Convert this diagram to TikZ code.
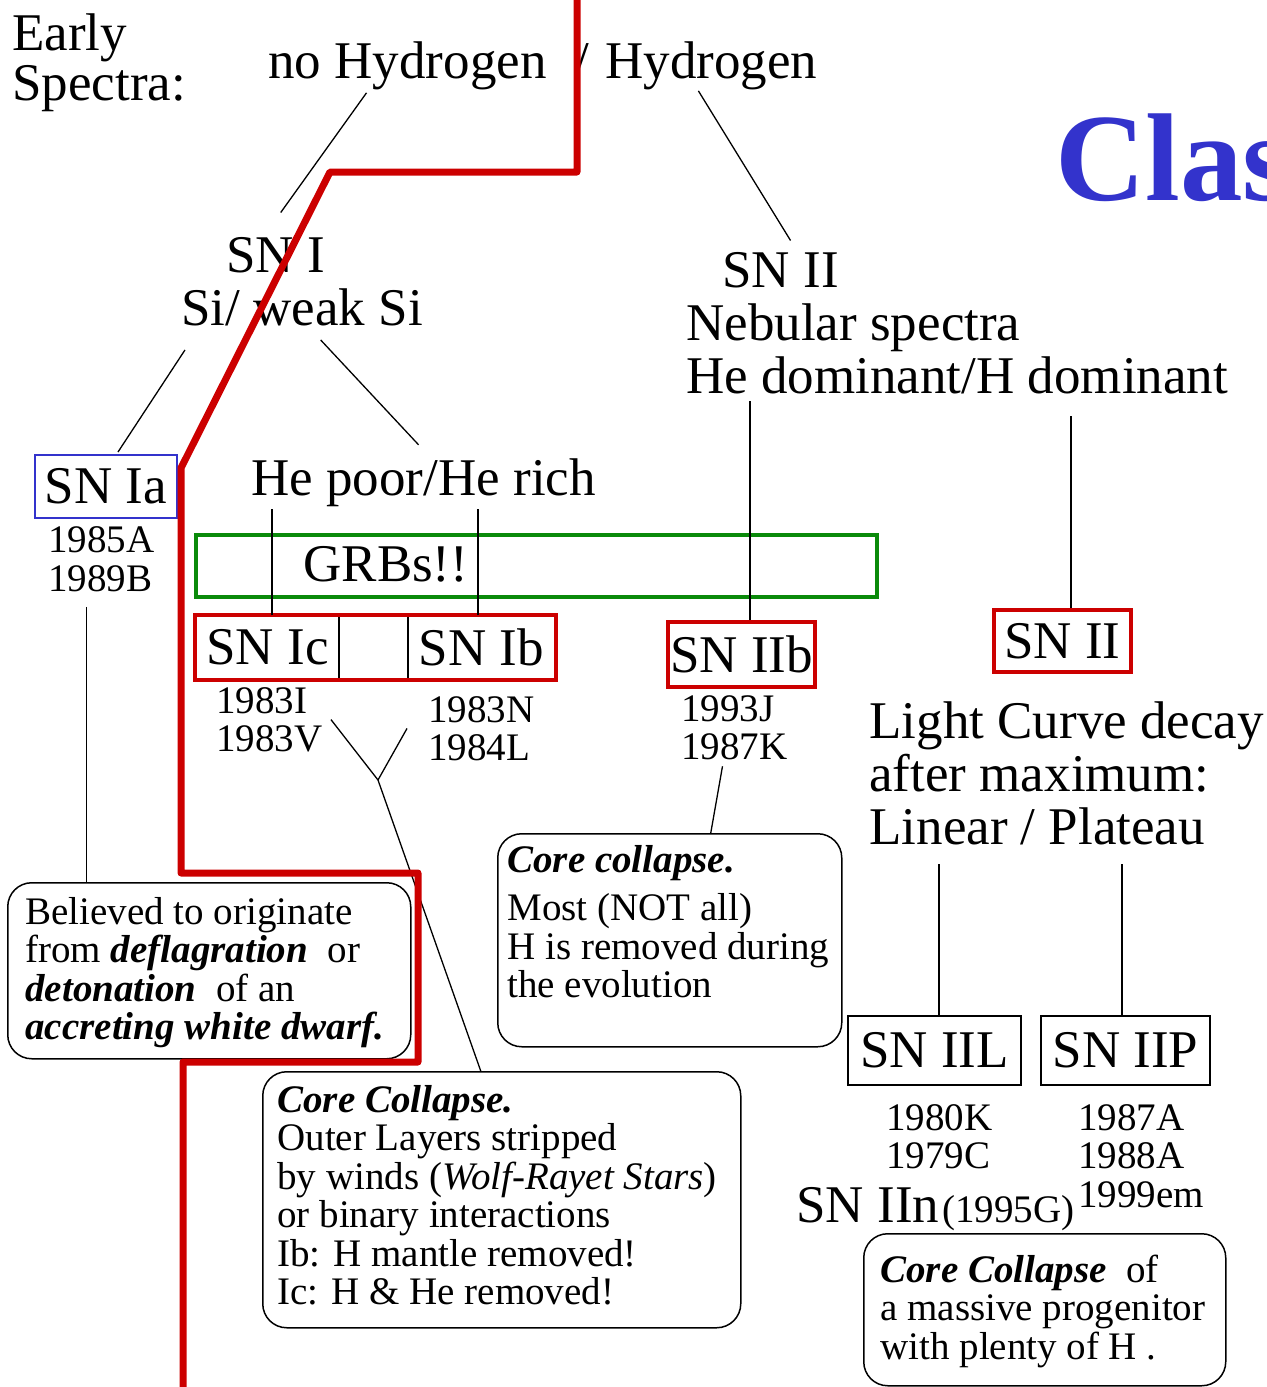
\documentclass[tikz,border=0pt]{standalone}
\usepackage{fontspec}
\setmainfont{Liberation Serif}
\usetikzlibrary{calc}
\definecolor{snred}{HTML}{CC0000}
\definecolor{grbgreen}{HTML}{0A8A0A}
\definecolor{iablue}{HTML}{3333CC}
\tikzset{
  big/.style={font=\fontsize{26.5}{26.5}\selectfont},
  small/.style={font=\fontsize{19.5}{19.25}\selectfont},
  txt/.style={inner sep=0pt, anchor=base west, align=left},
  branch/.style={line width=0.65pt},
  snbox/.style={draw, line width=0.75pt, inner sep=0pt, font=\fontsize{26.5}{26.5}\selectfont},
  redbox/.style={draw=snred, line width=1.8pt},
  notebox/.style={draw, line width=0.75pt, rounded corners=12pt, inner sep=0pt, anchor=north west},
}
\begin{document}
\begin{tikzpicture}[x=0.5pt, y=-0.5pt]
\useasboundingbox (0,0) rectangle (1267,1387);

\node[txt, font=\fontsize{26.5}{25}\selectfont] (early) at (12,100) {Early\\Spectra:};
\node[txt, big] (nohyd) at (268,78) {no Hydrogen};
\node[txt, big] (slash) at (574,78) {/};
\node[txt, big] (hyd) at (605,78) {Hydrogen};
\node[txt, font=\fontsize{62.5}{62.5}\selectfont\bfseries, text=iablue] (title) at (1055,200) {Clas};

\node[txt, big] (sni) at (226,272) {SN I};
\node[txt, big] (sisi) at (181,325) {Si/ weak Si};
\node[snbox, draw=iablue, line width=1pt, minimum width=71pt, minimum height=31.5pt] (snia) at (106,486.5) {SN Ia};
\node[txt, small] (yrsia) at (48,591) {1985A\\1989B};
\node[txt, big] (hepoor) at (251,495) {He poor/He rich};
\node[draw=grbgreen, line width=1.7pt, minimum width=340.5pt, minimum height=31pt] (grb) at (536.5,566) {};
\node[txt, big] (grbtext) at (303,581) {GRBs!!};
\node[snbox, minimum width=71.5pt, minimum height=31.5pt] (snic) at (267.5,647.5) {SN Ic};
\node[snbox, minimum width=73.5pt, minimum height=31.5pt] (snib) at (481.5,647.5) {SN Ib};
\draw[redbox] (snic.north west) rectangle (snib.south east);
\node[txt, small] (yrsic) at (216,751.5) {1983I\\1983V};
\node[txt, small] (yrsib) at (428,760.5) {1983N\\1984L};

\node[txt, big] (snii) at (722,287) {SN II};
\node[txt, big] (nebular) at (686,393) {Nebular spectra\\He dominant/H dominant};
\node[snbox, draw=snred, line width=1.8pt, minimum width=73.5pt, minimum height=32.5pt] (sniib) at (741.5,654.5) {SN IIb};
\node[txt, small] (yrsiib) at (681,759.5) {1993J\\1987K};
\node[snbox, draw=snred, line width=1.8pt, minimum width=68.5pt, minimum height=31pt] (sniibox) at (1062.5,641) {SN II};
\node[txt, big] (lightcurve) at (869,844) {Light Curve decay\\after maximum:\\Linear / Plateau};
\node[snbox, minimum width=86.5pt, minimum height=34.5pt] (sniil) at (934.5,1050.5) {SN IIL};
\node[snbox, minimum width=84.5pt, minimum height=34.5pt] (sniip) at (1125.5,1050.5) {SN IIP};
\node[txt, small] (yrsiil) at (886,1168.5) {1980K\\1979C};
\node[txt, small] (yrsiip) at (1078,1207) {1987A\\1988A\\1999em};
\node[txt, big] (sniin) at (796,1222) {SN IIn};
\node[txt, small] (yrsiin) at (942,1222) {(1995G)};

\node[notebox, minimum width=201.5pt, minimum height=88pt] (iabox) at (7,882) {};
\node[txt, small] (iatext) at (25,1039.5) {Believed to originate\\from \textbf{\textit{deflagration}}\ \ or\\\textbf{\textit{detonation}}\ \ of an\\\textbf{\textit{accreting white dwarf.}}};
\node[notebox, minimum width=172pt, minimum height=106.5pt] (iibbox) at (497,833) {};
\node[txt, small] (iibtext) at (507,997.5) {\textbf{\textit{Core collapse.}}\\[5pt]Most (NOT all)\\H is removed during\\the evolution};
\node[notebox, minimum width=239pt, minimum height=128pt] (ibcbox) at (262,1071) {};
\node[txt, small] (ibctext) at (277,1304.5) {\textbf{\textit{Core Collapse.}}\\Outer Layers stripped\\by winds (\textit{Wolf-Rayet Stars})\\or binary interactions\\Ib: H mantle removed!\\Ic: H \& He removed!};
\node[notebox, minimum width=181pt, minimum height=76pt] (iinbox) at (863,1233) {};
\node[txt, small] (iintext) at (880,1359) {\textbf{\textit{Core Collapse}}\ \ of\\a massive progenitor\\with plenty of H .};

\draw[branch] ($(nohyd.south)+(-41,3)$) -- ($(sni.north)+(5,-24)$);
\draw[branch] ($(hyd.south)+(-13,1)$) -- ($(snii.north)+(10,-11)$);
\draw[branch] ($(sisi.south west)+(4,24)$) -- ($(snia.north)+(12,-2)$);
\draw[branch] ($(sisi.south)+(18.5,14)$) -- ($(hepoor.north)+(-5,-13)$);
\draw[branch] ($(snic.north)+(4.5,0)$) -- ++(0,-106);
\draw[branch] ($(snib.north)+(-3.5,0)$) -- ++(0,-106);
\draw[branch] ($(sniib.north)+(8.5,0)$) -- ++(0,-219);
\draw[branch] ($(sniibox.north)+(8.5,0)$) -- ++(0,-192);
\draw[branch] ($(yrsia.south)+(-15,15)$) -- ++(0,276);
\coordinate (ibjoin) at (378,780);
\draw[branch] ($(yrsic.east)+(8,0)$) -- (ibjoin) -- ($(ibcbox.north)+(-21,0)$);
\draw[branch] ($(yrsib.west)+(-21,0)$) -- (ibjoin);
\draw[branch] ($(yrsiib.south)+(-12,6)$) -- ($(iibbox.north)+(41,0)$);
\draw[branch] ($(sniil.north)+(4.5,0)$) -- ++(0,-151);
\draw[branch] ($(sniip.north)+(-3.5,0)$) -- ++(0,-151);

\draw[snred, line width=3.5pt, line cap=round, line join=round]
  (577,-10) -- (577,172) -- (330,172) -- (181,468) -- (181,873) -- (418,873)
  -- (418,1062) -- (183,1062) -- (183,1400);
\end{tikzpicture}
\end{document}
